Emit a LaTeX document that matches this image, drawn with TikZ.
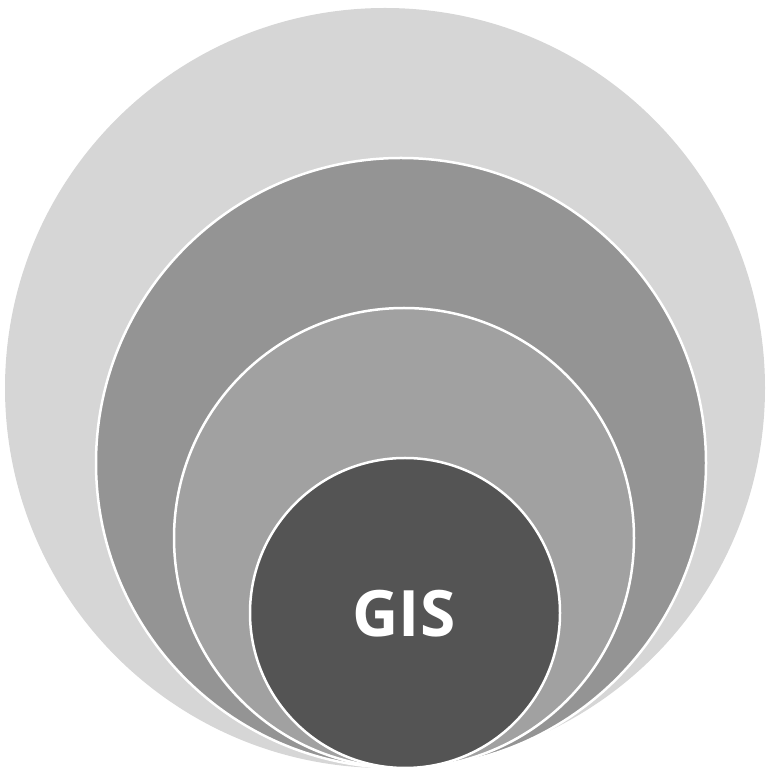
\documentclass[tikz,border=0pt]{standalone}
\usepackage{fontspec}
\newfontfamily\gisfont{Open Sans}
\usepackage{tikz}
\usetikzlibrary{positioning}
\usepackage{xcolor}

\definecolor{ringA}{gray}{0.84}
\definecolor{ringB}{gray}{0.58}
\definecolor{ringC}{gray}{0.63}
\definecolor{ringD}{gray}{0.33}

\tikzset{
    ring/.style={circle, inner sep=0pt, outer sep=0pt},
    edge/.style={ring, draw=white, line width=2.5pt}
}

\begin{document}
\begin{tikzpicture}[x=1pt, y=1pt]
    \useasboundingbox (0,0) rectangle (767,771);

    % Outer ring
    \node[ring, fill=ringA, minimum size=760pt] (outer) at (385,383) {};

    % Second ring
    \node[edge, fill=ringB, minimum size=610pt] (second) at (401,308) {};

    % Third ring
    \node[edge, fill=ringC, minimum size=460pt] (third) at (404,233) {};

    % Core
    \node[edge, fill=ringD, minimum size=310pt] (core) at (405,158) {};
    \node[text=white] (gis) at (404,157) {\gisfont\fontsize{64}{64}\selectfont\bfseries GIS};
\end{tikzpicture}
\end{document}
